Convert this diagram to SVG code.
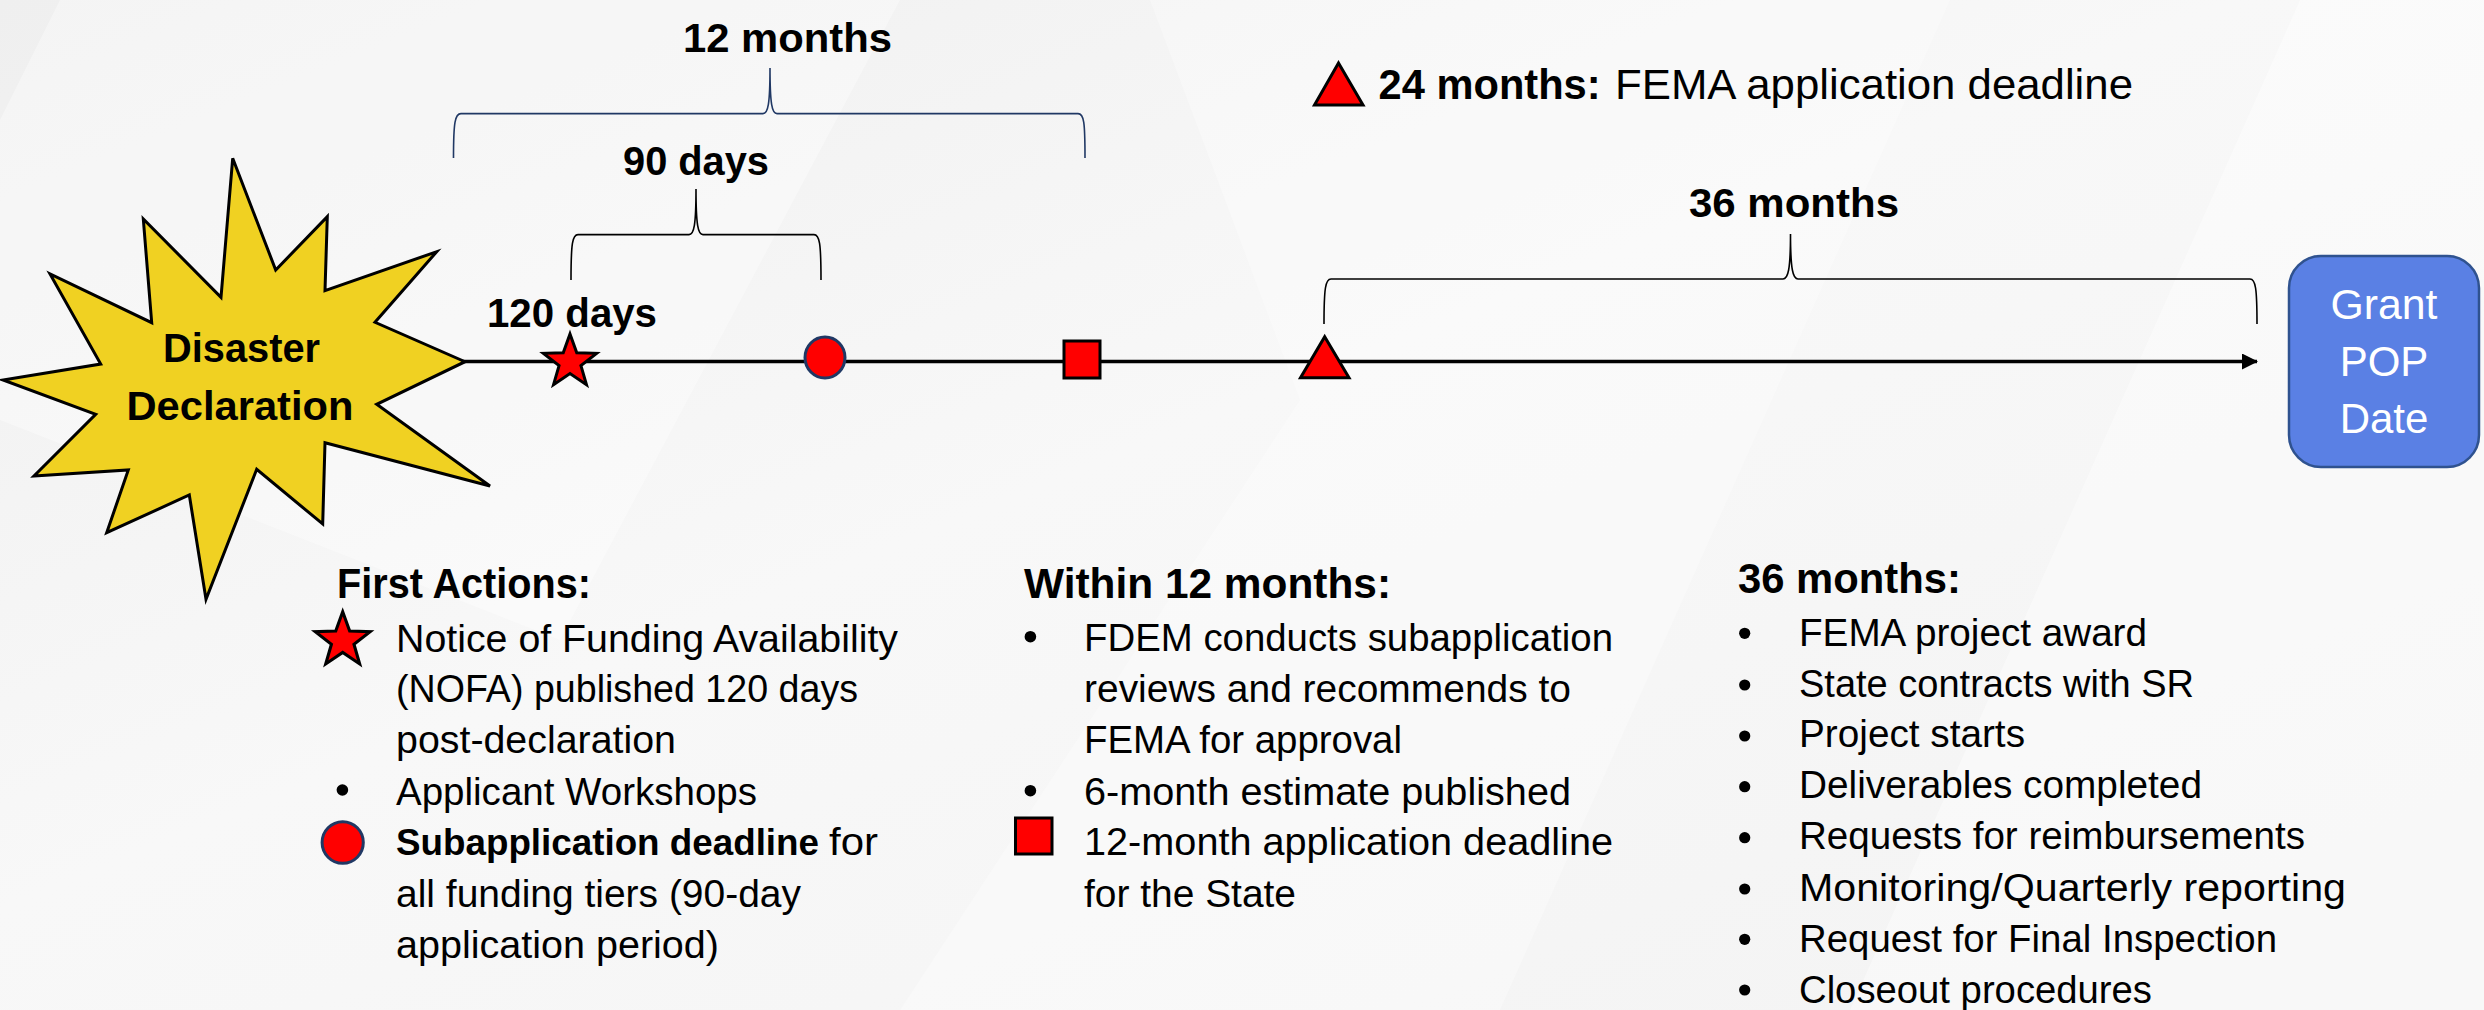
<svg xmlns="http://www.w3.org/2000/svg" xmlns:xlink="http://www.w3.org/1999/xlink" width="2484" height="1010" viewBox="0 0 2484 1010">
  <defs>
    <linearGradient id="bg" x1="0" y1="0" x2="1" y2="1">
      <stop offset="0" stop-color="#EFEFEF"/>
      <stop offset="0.45" stop-color="#F8F8F8"/>
      <stop offset="1" stop-color="#F3F3F3"/>
    </linearGradient>
    <polygon id="star" points="0,-28 6.76,-9.3 26.63,-8.65 10.94,3.55 16.46,22.65 0,11.5 -16.46,22.65 -10.94,3.55 -26.63,-8.65 -6.76,-9.3"/>
    <marker id="arrow" viewBox="0 0 16 16" refX="15" refY="8" markerWidth="16" markerHeight="16" markerUnits="userSpaceOnUse" orient="auto">
      <path d="M0,0 L16,8 L0,16 Z" fill="#000"/>
    </marker>
    <style>
      .b { font-family: "Liberation Sans", Arial, sans-serif; font-weight: bold; fill: #000; }
      .r { font-family: "Liberation Sans", Arial, sans-serif; font-weight: normal; fill: #000; }
      .w { fill: #FFFFFF; }
      .lbl { font-size: 41px; }
      .head { font-size: 42px; }
      .body { font-size: 38px; }
      .brace { fill: none; stroke: #000; stroke-width: 1.6; }
      .mark { fill: #FF0000; stroke: #000; stroke-width: 3; }
      .dot { fill: #000; }
    </style>
  </defs>

  <!-- background -->
  <rect x="0" y="0" width="2484" height="1010" fill="url(#bg)"/>
  <g fill="#FFFFFF">
    <polygon points="60,0 900,0 560,640 0,420 0,120" opacity="0.35"/>
    <polygon points="1150,0 1950,0 1500,1010 900,1010 1300,400" opacity="0.3"/>
    <polygon points="2300,0 2484,0 2484,1010 1850,1010" opacity="0.4"/>
  </g>

  <!-- connectors: timeline and braces -->
  <g id="connectors">
    <line x1="462" y1="361.5" x2="2257" y2="361.5" stroke="#000" stroke-width="3.5" marker-end="url(#arrow)"/>
    <path id="brace-12m" class="brace" style="stroke:#203864" d="M453.5,158 C453.5,122 455,113.6 461,113.6 L763,113.6 C768,113.6 770,104 770,68 C770,104 772,113.6 777,113.6 L1078,113.6 C1084,113.6 1085,122 1085,158"/>
    <path id="brace-90d" class="brace" d="M571,280 C571,243 572.5,234.6 578,234.6 L689,234.6 C694,234.6 696,225 696,189 C696,225 698,234.6 703,234.6 L814,234.6 C819.5,234.6 821,243 821,280"/>
    <path id="brace-36m" class="brace" d="M1324,324 C1324,288 1325.5,279 1331,279 L1783,279 C1788,279 1790.5,270 1790.5,234 C1790.5,270 1793,279 1798,279 L2250,279 C2255.5,279 2257,288 2257,324"/>
  </g>

  <!-- Disaster Declaration starburst -->
  <g id="node-disaster">
    <polygon points="232.7,158.3 275.7,270 327.3,216.7 325,290.7 436.7,251.7 375,322.3 465,361.7 376.7,404.3 490,486 325,442.7 322.7,524 256.7,469.3 206,599.3 189.3,495 106.7,532.7 128.3,470 34,476 95.7,414.3 3,380 100.7,364 50,274 151.7,322.7 143.3,219 221,297.3" fill="#F0D122" stroke="#000" stroke-width="3" stroke-linejoin="miter"/>
    <text class="b lbl" x="241.5" y="362" text-anchor="middle" textLength="157" lengthAdjust="spacingAndGlyphs">Disaster</text>
    <text class="b lbl" x="240" y="420" text-anchor="middle" textLength="227" lengthAdjust="spacingAndGlyphs">Declaration</text>
  </g>

  <!-- timeline markers -->
  <g id="marker-star">
    <use xlink:href="#star" href="#star" x="570" y="362" class="mark" stroke-width="2.5"/>
  </g>
  <g id="marker-circle">
    <ellipse cx="825" cy="357.5" rx="20" ry="20.5" fill="#FF0000" stroke="#203864" stroke-width="3"/>
  </g>
  <g id="marker-square">
    <rect x="1064" y="341" width="36" height="37" class="mark"/>
  </g>
  <g id="marker-triangle">
    <polygon points="1324.7,336.7 1349,377.7 1300.5,377.7" class="mark"/>
  </g>

  <!-- span labels -->
  <g id="label-12m"><text class="b lbl" x="683" y="52" textLength="209" lengthAdjust="spacingAndGlyphs">12 months</text></g>
  <g id="label-90d"><text class="b lbl" x="623" y="175" textLength="146" lengthAdjust="spacingAndGlyphs">90 days</text></g>
  <g id="label-120d"><text class="b lbl" x="487" y="327" textLength="170" lengthAdjust="spacingAndGlyphs">120 days</text></g>
  <g id="label-36m"><text class="b lbl" x="1689" y="217" textLength="210" lengthAdjust="spacingAndGlyphs">36 months</text></g>

  <!-- 24 months legend -->
  <g id="legend-24m">
    <polygon points="1338.5,63 1363,105 1314.5,105" class="mark"/>
    <text x="1378.6" y="99" class="b head" textLength="222" lengthAdjust="spacingAndGlyphs">24 months:</text>
    <text x="1615" y="99" class="r head" textLength="518" lengthAdjust="spacingAndGlyphs">FEMA application deadline</text>
  </g>

  <!-- Grant POP Date -->
  <g id="node-grant">
    <rect x="2289" y="256" width="190" height="211" rx="32" ry="32" fill="#5A80E4" stroke="#2F528F" stroke-width="2.5"/>
    <text class="r w" x="2384" y="319" font-size="42" text-anchor="middle" textLength="107" lengthAdjust="spacingAndGlyphs">Grant</text>
    <text class="r w" x="2384" y="376" font-size="42" text-anchor="middle">POP</text>
    <text class="r w" x="2384" y="433" font-size="42" text-anchor="middle">Date</text>
  </g>

  <!-- First Actions column -->
  <g id="col-first-actions">
    <text class="b head" x="337" y="598" textLength="254" lengthAdjust="spacingAndGlyphs">First Actions:</text>
    <use xlink:href="#star" href="#star" transform="translate(342.7,640.6) scale(1.03)" class="mark" stroke-width="2.4"/>
    <text class="r body" x="396" y="651.7" textLength="502" lengthAdjust="spacingAndGlyphs">Notice of Funding Availability</text>
    <text class="r body" x="396" y="701.7" textLength="462" lengthAdjust="spacingAndGlyphs">(NOFA) published 120 days</text>
    <text class="r body" x="396" y="753" textLength="280" lengthAdjust="spacingAndGlyphs">post-declaration</text>
    <circle cx="342.4" cy="790" r="5.8" class="dot"/>
    <text class="r body" x="396" y="805" textLength="361" lengthAdjust="spacingAndGlyphs">Applicant Workshops</text>
    <ellipse cx="342.7" cy="842.5" rx="20.6" ry="20.8" fill="#FF0000" stroke="#203864" stroke-width="3"/>
    <text class="b" x="396" y="855" font-size="36.5" textLength="423" lengthAdjust="spacingAndGlyphs">Subapplication deadline</text>
    <text class="r body" x="829" y="855" textLength="49" lengthAdjust="spacingAndGlyphs">for</text>
    <text class="r body" x="396" y="906.7" textLength="405" lengthAdjust="spacingAndGlyphs">all funding tiers (90-day</text>
    <text class="r body" x="396" y="958" textLength="323" lengthAdjust="spacingAndGlyphs">application period)</text>
  </g>

  <!-- Within 12 months column -->
  <g id="col-within-12m">
    <text class="b head" x="1024" y="598" textLength="367" lengthAdjust="spacingAndGlyphs">Within 12 months:</text>
    <circle cx="1030.4" cy="636.7" r="5.8" class="dot"/>
    <text class="r body" x="1084" y="650.5" textLength="529" lengthAdjust="spacingAndGlyphs">FDEM conducts subapplication</text>
    <text class="r body" x="1084" y="701.7" textLength="487" lengthAdjust="spacingAndGlyphs">reviews and recommends to</text>
    <text class="r body" x="1084" y="753.3" textLength="318" lengthAdjust="spacingAndGlyphs">FEMA for approval</text>
    <circle cx="1030.4" cy="790.7" r="5.8" class="dot"/>
    <text class="r body" x="1084" y="805" textLength="487" lengthAdjust="spacingAndGlyphs">6-month estimate published</text>
    <rect x="1015.5" y="818" width="36.5" height="36" class="mark"/>
    <text class="r body" x="1084" y="855" textLength="529" lengthAdjust="spacingAndGlyphs">12-month application deadline</text>
    <text class="r body" x="1084" y="906.7" textLength="212" lengthAdjust="spacingAndGlyphs">for the State</text>
  </g>

  <!-- 36 months column -->
  <g id="col-36m">
    <text class="b head" x="1738" y="593.3" textLength="223" lengthAdjust="spacingAndGlyphs">36 months:</text>
    <circle cx="1744.7" cy="633.3" r="5.6" class="dot"/>
    <text class="r body" x="1799" y="646" textLength="348" lengthAdjust="spacingAndGlyphs">FEMA project award</text>
    <circle cx="1744.7" cy="685" r="5.6" class="dot"/>
    <text class="r body" x="1799" y="696.7" textLength="395" lengthAdjust="spacingAndGlyphs">State contracts with SR</text>
    <circle cx="1744.7" cy="736" r="5.6" class="dot"/>
    <text class="r body" x="1799" y="747.3" textLength="226" lengthAdjust="spacingAndGlyphs">Project starts</text>
    <circle cx="1744.7" cy="786.7" r="5.6" class="dot"/>
    <text class="r body" x="1799" y="798.3" textLength="403" lengthAdjust="spacingAndGlyphs">Deliverables completed</text>
    <circle cx="1744.7" cy="837.7" r="5.6" class="dot"/>
    <text class="r body" x="1799" y="849.3" textLength="506" lengthAdjust="spacingAndGlyphs">Requests for reimbursements</text>
    <circle cx="1744.7" cy="889" r="5.6" class="dot"/>
    <text class="r body" x="1799" y="900.7" textLength="547" lengthAdjust="spacingAndGlyphs">Monitoring/Quarterly reporting</text>
    <circle cx="1744.7" cy="939.3" r="5.6" class="dot"/>
    <text class="r body" x="1799" y="951.7" textLength="478" lengthAdjust="spacingAndGlyphs">Request for Final Inspection</text>
    <circle cx="1744.7" cy="990" r="5.6" class="dot"/>
    <text class="r body" x="1799" y="1002.7" textLength="353" lengthAdjust="spacingAndGlyphs">Closeout procedures</text>
  </g>
</svg>
